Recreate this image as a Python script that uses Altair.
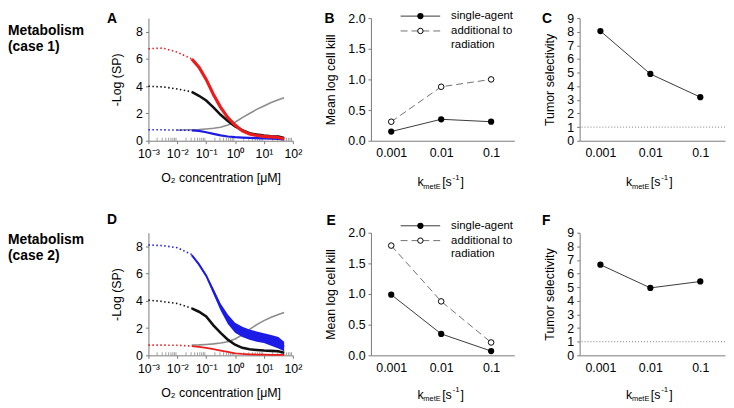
import pandas as pd
import altair as alt

FONT = "Liberation Sans"
RED = "#ec1c1c"
BLUE = "#1c1ce6"
BLACK = "#111111"
GRAY = "#8c8c8c"
AXIS_GRAY = "#7a7a7a"
LINE_DARK = "#3a3a3a"
LINE_DASH = "#707070"

# ---------------- data ----------------
O2_UM = [0.001, 0.00316, 0.01, 0.0316, 0.0562, 0.1, 0.178, 0.316, 0.562,
         1, 1.78, 3.16, 5.62, 10, 17.8, 31.6, 50]

A_RED = [6.75, 6.8, 6.5, 6.0, 5.4, 4.5, 3.4, 2.45, 1.7, 1.15, 0.72, 0.5, 0.38, 0.32, 0.28, 0.24, 0.12]
A_BLACK = [4.0, 3.95, 3.8, 3.58, 3.3, 2.95, 2.45, 1.9, 1.45, 1.05, 0.78, 0.55, 0.45, 0.38, 0.33, 0.3, 0.2]
A_BLUE = [0.8, 0.8, 0.78, 0.76, 0.72, 0.62, 0.5, 0.39, 0.31, 0.26, 0.23, 0.21, 0.19, 0.17, 0.15, 0.13, 0.1]
A_GRAY = [None, None, 0.78, 0.8, 0.82, 0.86, 0.91, 0.99, 1.15, 1.36, 1.7, 2.0, 2.3, 2.55, 2.8, 3.0, 3.15]

D_BLUE_HI = [8.1, 8.05, 7.9, 7.4, 6.75, 5.95, 4.9, 3.8, 3.0, 2.4, 2.1, 1.9, 1.75, 1.62, 1.5, 1.35, 1.0]
D_BLUE_LO = [8.1, 8.05, 7.9, 7.3, 6.6, 5.75, 4.5, 3.3, 2.3, 1.65, 1.35, 1.15, 1.0, 0.9, 0.7, 0.5, 0.3]
D_BLACK = [4.05, 3.95, 3.8, 3.45, 3.2, 2.85, 2.2, 1.65, 1.15, 0.78, 0.55, 0.44, 0.39, 0.35, 0.33, 0.3, 0.19]
D_RED = [0.75, 0.75, 0.74, 0.68, 0.62, 0.54, 0.45, 0.35, 0.25, 0.15, 0.1, 0.07, 0.06, 0.05, 0.04, 0.04, 0.03]
D_GRAY = [None, None, None, 0.76, 0.77, 0.8, 0.84, 0.9, 1.0, 1.2, 1.5, 1.9, 2.25, 2.55, 2.8, 3.0, 3.15]

K_METE = [0.001, 0.01, 0.1]
B_SINGLE = [0.15, 0.35, 0.31]
B_ADD = [0.31, 0.88, 1.0]
C_SEL = [8.05, 4.9, 3.2]
E_SINGLE = [0.99, 0.35, 0.07]
E_ADD = [1.79, 0.88, 0.21]
F_SEL = [6.65, 4.95, 5.42]

X_MAJOR_TICKS = [0.001, 0.01, 0.1, 1, 10, 100]
X_MINOR_MULT = [2, 3, 4, 5, 6, 7, 8, 9]
X_TICK_LABELS = ["10⁻³", "10⁻²", "10⁻¹", "10⁰", "10¹", "10²"]
ROW_LABELS = [["Metabolism", "(case 1)"], ["Metabolism", "(case 2)"]]
LETTERS = ["A", "B", "C", "D", "E", "F"]
LEGEND_LABELS = ["single-agent", "additional to", "radiation"]
Y_TITLES = ["-Log (SP)", "Mean log cell kill", "Tumor selectivity"]
X_TITLE_O2 = "O₂ concentration [μM]"

W_A_AXIS, W_A, W_B, W_C, H = 146, 159, 145, 147, 124
DOT_END = 3


def one(t="x"):
    return pd.DataFrame({"t": [t]})


def txt(text, x, y, size=12.5, weight="normal", align="left"):
    return alt.Chart(one(text)).mark_text(
        font=FONT, fontSize=size, fontWeight=weight, align=align,
        baseline="middle", color="black"
    ).encode(x=alt.value(x), y=alt.value(y), text="t:N")


# ---------------- oxygen panels (A, D) ----------------
def x_o2():
    expr = "[" + ",".join("'%s'" % s for s in X_TICK_LABELS) + "][round(log(datum.value)/LN10)+3]"
    return alt.X("conc:Q",
                 scale=alt.Scale(type="log", domain=[0.001, 100], nice=False, range=[0, W_A_AXIS]),
                 axis=alt.Axis(values=X_MAJOR_TICKS, labelExpr=expr,
                               labelFlush=False, labelOverlap=False, labelPadding=4,
                               title=X_TITLE_O2, titlePadding=12))


def y_sp(field="value"):
    return alt.Y(f"{field}:Q", scale=alt.Scale(domain=[0, 9], nice=False),
                 axis=alt.Axis(values=[0, 2, 4, 6, 8], title=Y_TITLES[0], titlePadding=12))


def minor_ticks():
    vals = [d * m for d in X_MAJOR_TICKS[:-1] for m in X_MINOR_MULT]
    df = pd.DataFrame({"conc": vals})
    return alt.Chart(df).mark_tick(color=AXIS_GRAY, thickness=1, size=3, orient="vertical").encode(
        x=x_o2(), y=alt.value(H - 1.5))


def curve(values, color, width, dotted=True):
    rows = [(c, v, i) for i, (c, v) in enumerate(zip(O2_UM, values)) if v is not None]
    df = pd.DataFrame(rows, columns=["conc", "value", "idx"])
    layers = []
    if dotted:
        layers.append(alt.Chart(df[df.idx <= DOT_END]).mark_line(
            color=color, strokeWidth=1.6, strokeDash=[1.5, 2.5]).encode(x=x_o2(), y=y_sp()))
        df = df[df.idx >= DOT_END]
    layers.append(alt.Chart(df).mark_line(color=color, strokeWidth=width).encode(x=x_o2(), y=y_sp()))
    return layers


def band(hi, lo, color):
    df = pd.DataFrame({"conc": O2_UM, "hi": hi, "lo": lo, "idx": range(len(O2_UM))})
    df = df[df.idx >= DOT_END].copy()
    area = alt.Chart(df).mark_area(color=color, opacity=1).encode(
        x=x_o2(), y=y_sp("hi"), y2="lo:Q")
    df["mid"] = [(a + b) / 2 for a, b in zip(df.hi, df.lo)]
    mid = alt.Chart(df).mark_line(color=color, strokeWidth=2).encode(x=x_o2(), y=y_sp("mid"))
    return [area, mid]


def row_label(lines, y1, y2):
    return [txt(lines[0], -142, y1, 14, "bold"), txt(lines[1], -142, y2, 14, "bold")]


panel_A = alt.layer(
    minor_ticks(),
    *curve(A_GRAY, GRAY, 1.6, dotted=False),
    *curve(A_BLUE, BLUE, 2.2),
    *curve(A_BLACK, BLACK, 2.6),
    *curve(A_RED, RED, 3.2),
    *row_label(ROW_LABELS[0], 12.7, 29.5),
    txt(LETTERS[0], -42, 1, 14, "bold"),
).properties(width=W_A, height=H)

panel_D = alt.layer(
    minor_ticks(),
    *curve(D_GRAY, GRAY, 1.6, dotted=False),
    *curve(D_RED, RED, 1.8),
    *curve(D_BLACK, BLACK, 2.6),
    *curve([v if i <= DOT_END else None for i, v in enumerate(D_BLUE_HI)], BLUE, 2, dotted=True),
    *band(D_BLUE_HI, D_BLUE_LO, BLUE),
    *row_label(ROW_LABELS[1], 7, 24),
    txt(LETTERS[3], -42, -12.5, 14, "bold"),
).properties(width=W_A, height=H)


# ---------------- k_metE panels (B, C, E, F) ----------------
def x_k(width, left=20.5):
    lo = -3 - left / 50.5
    hi = lo + width / 50.5
    return alt.X("k:Q", scale=alt.Scale(type="log", domain=[10 ** lo, 10 ** hi], nice=False),
                 axis=alt.Axis(values=K_METE, format="~g", ticks=False, labelPadding=6,
                               labelFlush=False, labelOverlap=False, title=None))


def k_title(yb):
    return [
        txt("k", 47, yb, 12.5),
        txt("metE", 53, yb + 4.5, 7.5),
        txt("[s", 72, yb, 12.5),
        txt("-1", 82.5, yb - 4.5, 8),
        txt("]", 90.5, yb, 12.5),
    ]


def legend(y0):
    one_df = one()
    rows = []
    rows.append(alt.Chart(one_df).mark_rule(color=LINE_DARK, strokeWidth=1).encode(
        x=alt.value(30), x2=alt.value(70), y=alt.value(y0)))
    rows.append(alt.Chart(one_df).mark_circle(color="black", opacity=1, size=40).encode(
        x=alt.value(50), y=alt.value(y0)))
    rows.append(alt.Chart(one_df).mark_rule(color=LINE_DASH, strokeWidth=1, strokeDash=[7, 4]).encode(
        x=alt.value(30), x2=alt.value(70), y=alt.value(y0 + 15)))
    rows.append(alt.Chart(one_df).mark_circle(fill="white", stroke="black", strokeWidth=1,
                                              opacity=1, size=30).encode(
        x=alt.value(50), y=alt.value(y0 + 15)))
    rows.append(txt(LEGEND_LABELS[0], 81, y0, 11.5))
    rows.append(txt(LEGEND_LABELS[1], 81, y0 + 15, 11.5))
    rows.append(txt(LEGEND_LABELS[2], 81, y0 + 29, 11.5))
    return rows


def kill_panel(single, add, letter, letter_x, letter_y, leg_y, title_y):
    df = pd.DataFrame({"k": K_METE, "single": single, "add": add})
    x = x_k(W_B)
    ysc = alt.Scale(domain=[0, 2], nice=False)
    yax = alt.Axis(values=[0, 0.5, 1, 1.5, 2], format=".1f", title=Y_TITLES[1], titlePadding=10)
    base = alt.Chart(df)
    return alt.layer(
        base.mark_line(color=LINE_DASH, strokeWidth=1, strokeDash=[7, 4]).encode(
            x=x, y=alt.Y("add:Q", scale=ysc, axis=yax)),
        base.mark_line(color=LINE_DARK, strokeWidth=1).encode(
            x=x, y=alt.Y("single:Q", scale=ysc, axis=yax)),
        base.mark_circle(fill="white", stroke="black", strokeWidth=1, opacity=1, size=32).encode(
            x=x, y=alt.Y("add:Q", scale=ysc, axis=yax)),
        base.mark_circle(color="black", opacity=1, size=40).encode(
            x=x, y=alt.Y("single:Q", scale=ysc, axis=yax)),
        *legend(leg_y),
        *k_title(title_y),
        txt(letter, letter_x, letter_y, 14, "bold"),
    ).properties(width=W_B, height=H)


def sel_panel(sel, letter, letter_x, letter_y, title_y):
    df = pd.DataFrame({"k": K_METE, "sel": sel})
    x = x_k(W_C, 21)
    ysc = alt.Scale(domain=[0, 9], nice=False)
    yax = alt.Axis(values=list(range(10)), title=Y_TITLES[2], titlePadding=10)
    base = alt.Chart(df)
    ref = alt.Chart(pd.DataFrame({"sel": [1]})).mark_rule(
        color=AXIS_GRAY, strokeWidth=1, strokeDash=[1, 2]).encode(
        y=alt.Y("sel:Q", scale=ysc, axis=yax))
    return alt.layer(
        ref,
        base.mark_line(color=LINE_DARK, strokeWidth=1).encode(
            x=x, y=alt.Y("sel:Q", scale=ysc, axis=yax)),
        base.mark_circle(color="black", opacity=1, size=40).encode(
            x=x, y=alt.Y("sel:Q", scale=ysc, axis=yax)),
        *k_title(title_y),
        txt(letter, letter_x, letter_y, 14, "bold"),
    ).properties(width=W_C, height=H)


panel_B = kill_panel(B_SINGLE, B_ADD, LETTERS[1], -47, 1, -2, H + 42)
panel_C = sel_panel(C_SEL, LETTERS[2], -38, 1, H + 42)
panel_E = kill_panel(E_SINGLE, E_ADD, LETTERS[4], -45, -12, -7, H + 40)
panel_F = sel_panel(F_SEL, LETTERS[5], -38, -12, H + 40)

chart = alt.concat(
    panel_A, panel_B, panel_C, panel_D, panel_E, panel_F,
    columns=3, spacing={"row": 93, "column": 66}, bounds="flush"
).properties(
    padding=0
).configure_view(stroke=None).configure_axis(
    grid=False, domainColor=AXIS_GRAY, tickColor=AXIS_GRAY, tickSize=3,
    labelFont=FONT, titleFont=FONT, labelFontSize=12.5, titleFontSize=12.5,
    titleFontWeight="normal", labelColor="black", titleColor="black", labelPadding=3
)

chart.save("out.html", embed_options={"renderer": "svg", "actions": False})
